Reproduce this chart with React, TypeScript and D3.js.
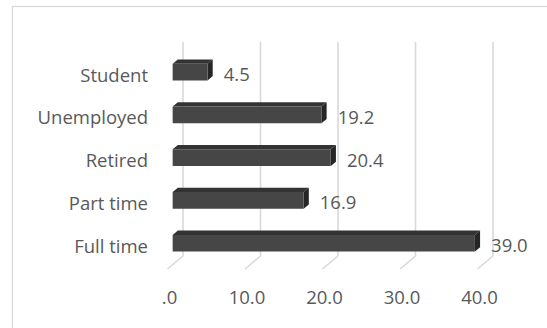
import React from "react";
import * as d3 from "d3";

// Employment status shares, listed top to bottom
const categories = ["Student", "Unemployed", "Retired", "Part time", "Full time"];
const values = [4.5, 19.2, 20.4, 16.9, 39.0];
const tickValues = [0, 10, 20, 30, 40];
const tickLabels = [".0", "10.0", "20.0", "30.0", "40.0"];

const W = 547;
const H = 328;

// Back wall of the 3D plot area
const BACK_LEFT = 183;
const BACK_RIGHT = 493;
const BACK_TOP = 42;
const BACK_BOTTOM = 256;
// Offset from the back wall to the front edge of the floor
const DEPTH_DX = -15.5;
const DEPTH_DY = 13;
// Bars occupy the middle third of the depth (fractions measured from the front)
const BAR_FRONT = 1 / 3;
const BAR_BACK = 2 / 3;

const FONT = "'Open Sans', Lato, sans-serif";
const FONT_SIZE = 18.5;
const TEXT = "#595959";
const GRID = "#d9d9d9";

const off = (fFromFront: number) => ({
  dx: (1 - fFromFront) * DEPTH_DX,
  dy: (1 - fFromFront) * DEPTH_DY,
});

export default function App() {
  const x = d3.scaleLinear().domain([0, 40]).range([BACK_LEFT, BACK_RIGHT]);
  const y = d3
    .scaleBand<string>()
    .domain(categories)
    .range([BACK_TOP, BACK_BOTTOM])
    .paddingInner(0.61)
    .paddingOuter(0.305);
  const bh = y.bandwidth();
  const fo = off(BAR_FRONT);
  const bo = off(BAR_BACK);
  const pts = (p: [number, number][]) => p.map((q) => q.join(",")).join(" ");

  return (
    <svg
      width={W}
      height={H}
      style={{ position: "fixed", left: 0, top: 0, background: "#fff" }}
      fontFamily={FONT}
    >
      <rect x={0} y={0} width={W} height={H} fill="#fff" />
      {/* chart frame */}
      <rect x={12.5} y={6.5} width={W + 20} height={H + 20} fill="none" stroke={GRID} strokeWidth={1.3} />

      {/* gridlines: back wall verticals plus floor diagonals */}
      {tickValues.map((t) => {
        const bx = x(t);
        return (
          <polyline
            key={t}
            points={pts([[bx, BACK_TOP], [bx, BACK_BOTTOM], [bx + DEPTH_DX, BACK_BOTTOM + DEPTH_DY]])}
            stroke={GRID}
            strokeWidth={1.6}
            fill="none"
          />
        );
      })}

      {/* bars */}
      {categories.map((c, i) => {
        const v = values[i];
        const y0 = y(c)!;
        const x0 = x(0);
        const x1 = x(v);
        const ftl: [number, number] = [x0 + fo.dx, y0 + fo.dy];
        const ftr: [number, number] = [x1 + fo.dx, y0 + fo.dy];
        const fbr: [number, number] = [x1 + fo.dx, y0 + bh + fo.dy];
        const fbl: [number, number] = [x0 + fo.dx, y0 + bh + fo.dy];
        const btl: [number, number] = [x0 + bo.dx, y0 + bo.dy];
        const btr: [number, number] = [x1 + bo.dx, y0 + bo.dy];
        const bbr: [number, number] = [x1 + bo.dx, y0 + bh + bo.dy];
        const cy = y0 + bh / 2 + fo.dy;
        return (
          <g key={c}>
            <polygon points={pts([ftl, ftr, btr, btl])} fill="#333333" />
            <polygon points={pts([ftr, btr, bbr, fbr])} fill="#262626" />
            <polygon points={pts([ftl, ftr, fbr, fbl])} fill="#464646" />
            <text
              x={148}
              y={cy + 2}
              textAnchor="end"
              dominantBaseline="central"
              fontSize={FONT_SIZE}
              fill={TEXT}
            >
              {c}
            </text>
            <text
              x={x1 + bo.dx + 11}
              y={cy + 1.5}
              dominantBaseline="central"
              fontSize={FONT_SIZE}
              fill={TEXT}
            >
              {d3.format(".1f")(v)}
            </text>
          </g>
        );
      })}

      {/* value axis labels along the front edge of the floor */}
      {tickValues.map((t, i) => (
        <text
          key={t}
          x={x(t) + DEPTH_DX + 2}
          y={296}
          textAnchor="middle"
          dominantBaseline="central"
          fontSize={FONT_SIZE}
          fill={TEXT}
        >
          {tickLabels[i]}
        </text>
      ))}
    </svg>
  );
}
